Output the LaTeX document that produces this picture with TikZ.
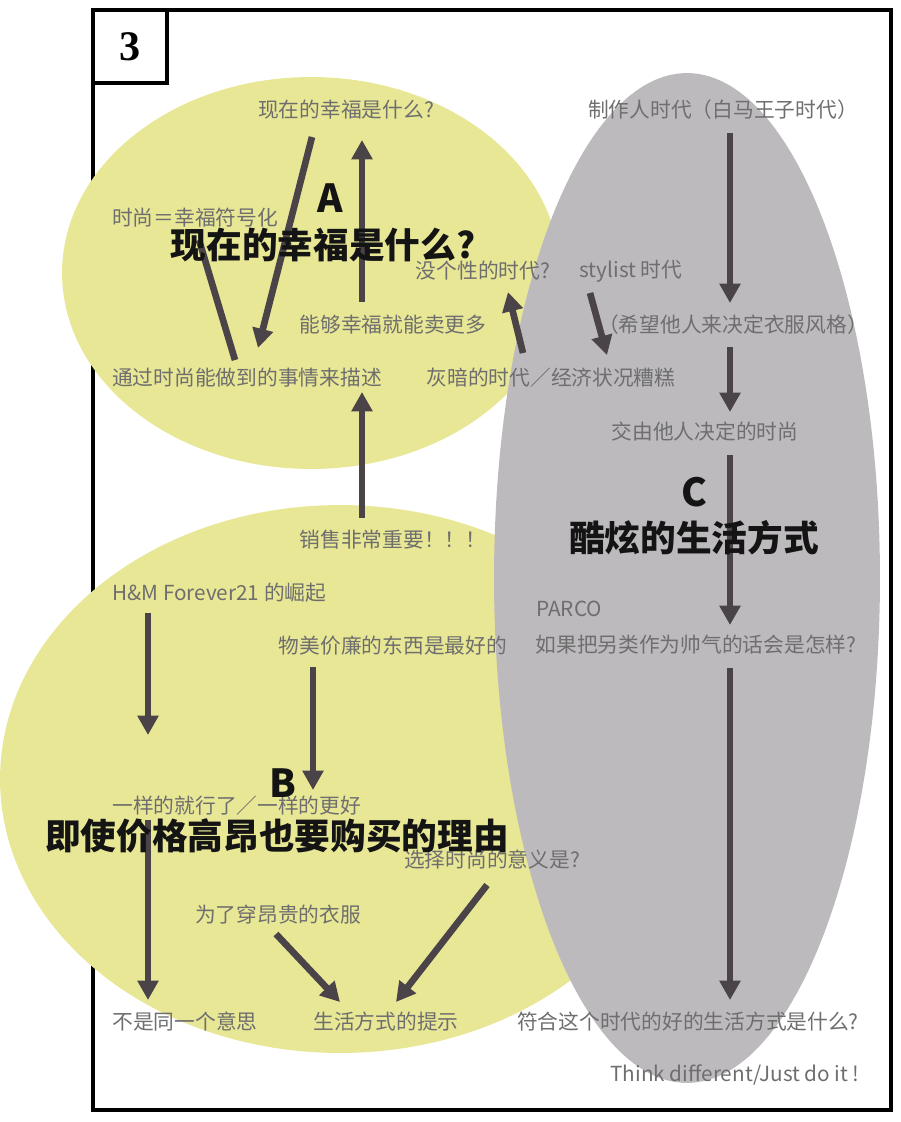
\documentclass[tikz,border=0pt]{standalone}
\usepackage{fontspec}
\setmainfont{Noto Sans CJK SC}
\newfontfamily\numfont{Liberation Serif}
\usetikzlibrary{arrows.meta}
\usetikzlibrary{positioning}
\definecolor{lemon}{RGB}{232,231,150}
\definecolor{fog}{RGB}{189,186,190}
\definecolor{ink}{RGB}{74,68,72}
\definecolor{note}{RGB}{110,110,110}
\tikzset{
    every node/.style={inner sep=0pt},
    small/.style={
        text=note,
        font=\fontsize{11.8}{14}\selectfont},
    big/.style={
        text=black!92,
        font=\fontsize{20.3}{24}\selectfont\bfseries},
    letter/.style={
        text=black!92,
        font=\fontsize{22}{24}\selectfont\bfseries},
    numbox/.style={
        draw,
        line width=2.3pt,
        minimum width=1.48cm,
        minimum height=1.46cm,
        font=\numfont\bfseries\fontsize{24}{24}\selectfont},
    every edge/.style={
        draw=ink,
        -{Triangle[length=11pt,width=11.5pt]},
        line width=3.8pt}}

\begin{document}
\begin{tikzpicture}[x=0.02cm,y=-0.02cm]
    \useasboundingbox (0,0) rectangle (900,1122);
    \draw[line width=2.3pt] (93,10) rectangle (891,1110);
    \node[numbox] (num) at (130,46.5) {3};

    % the three fields
    \fill[lemon] (311,273) ellipse [x radius=4.98cm, y radius=3.92cm];
    \fill[lemon] (340,779) ellipse [x radius=6.8cm, y radius=5.48cm];
    \fill[fog] (687,578) ellipse [x radius=3.86cm, y radius=10.1cm];

    % A
    \node[small] (qnow) at (346,110) {现在的幸福是什么?};
    \node[small] (sym) at (195,218) {时尚＝幸福符号化};
    \node[small] (noind) at (483,271) {没个性的时代?};
    \node[small] (stylist) at (631,271) {stylist 时代};
    \node[small] (happy) at (393,325) {能够幸福就能卖更多};
    \node[small] (desc) at (247,378) {通过时尚能做到的事情来描述};
    \node[small] (dark) at (551,378) {灰暗的时代／经济状况糟糕};

    % C
    \node[small] (maker) at (723,110) {制作人时代（白马王子时代）};
    \node[small] (hope) at (733,325) {（希望他人来决定衣服风格）};
    \node[small] (others) at (705,432) {交由他人决定的时尚};
    \node[small,anchor=west] (parco) at (536,609) {PARCO};
    \node[small] (alt) at (696,645) {如果把另类作为帅气的话会是怎样?};
    \node[small] (good) at (688,1022) {符合这个时代的好的生活方式是什么?};
    \node[small,anchor=east] (think) at (860,1075) {Think different/Just do it !};

    % B
    \node[small] (sales) at (393,540) {销售非常重要！！！};
    \node[small,anchor=west] (hm) at (112,593) {H\&M Forever21 的崛起};
    \node[small] (cheap) at (393,646) {物美价廉的东西是最好的};
    \node[small,anchor=west] (same) at (112,806) {一样的就行了／一样的更好};
    \node[small] (meaning) at (492,860) {选择时尚的意义是?};
    \node[small] (expensive) at (278,915) {为了穿昂贵的衣服};
    \node[small] (notsame) at (185,1022) {不是同一个意思};
    \node[small] (hint) at (386,1022) {生活方式的提示};

    \draw ([shift={(-34,27)}]qnow.center) edge ([shift={(11,-30)}]desc.center);
    \draw ([shift={(-12,-18)}]desc.center) edge[-] ([shift={(4,22)}]sym.center);
    \draw ([shift={(-31,-23)}]happy.center) edge ([shift={(16,30)}]qnow.center);
    \draw ([shift={(-31,-22)}]sales.center) edge ([shift={(-31,67)}]happy.center);
    \draw ([shift={(-28,-25)}]dark.center) edge ([shift={(25,21)}]noind.center);
    \draw ([shift={(-41,22)}]stylist.center) edge ([shift={(-126,30)}]hope.center);
    \draw ([shift={(7,23)}]maker.center) edge ([shift={(-3,-22)}]hope.center);
    \draw ([shift={(-3,22)}]hope.center) edge ([shift={(25,-20)}]others.center);
    \draw ([shift={(25,23)}]others.center) edge ([shift={(34,-20)}]alt.center);
    \draw ([shift={(34,23)}]alt.center) edge ([shift={(42,-22)}]good.center);
    \draw ([shift={(36,20)}]hm.west) edge ([shift={(36,-71)}]same.west);
    \draw ([shift={(-80,21)}]cheap.center) edge ([shift={(201,-16)}]same.west);
    \draw ([shift={(36,14)}]same.west) edge ([shift={(-37,-22)}]notsame.center);
    \draw ([shift={(-2,19)}]expensive.center) edge ([shift={(-46,-20)}]hint.center);
    \draw ([shift={(-5,25)}]meaning.center) edge ([shift={(10,-20)}]hint.center);

    % headings
    \node[letter] (la) at (330,198) {A};
    \node[big] (ha) at (323,245) {现在的幸福是什么?};
    \node[letter] (lb) at (283,783) {B};
    \node[big] (hb) at (277,836) {即使价格高昂也要购买的理由};
    \node[letter] (lc) at (694,492) {C};
    \node[big] (hc) at (694,538) {酷炫的生活方式};
\end{tikzpicture}
\end{document}
